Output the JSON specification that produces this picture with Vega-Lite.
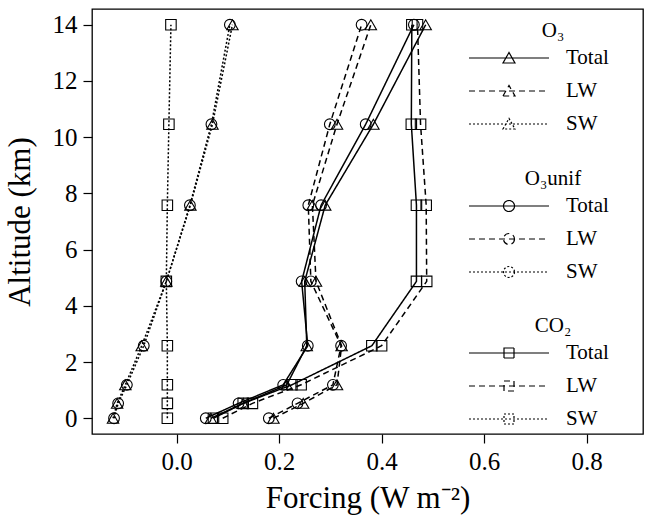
{
  "$schema": "https://vega.github.io/schema/vega-lite/v6.json",
  "width": 551,
  "height": 425,
  "autosize": "none",
  "padding": {"left": 92, "top": 9, "right": 2, "bottom": 83},
  "config": {
    "font": "Liberation Serif",
    "view": {"stroke": "black", "strokeWidth": 1.3},
    "axis": {
      "domain": false, "grid": false, "tickColor": "black", "tickSize": 9, "tickWidth": 1.2,
      "labelColor": "black", "labelFontSize": 25, "titleColor": "black", "titleFontSize": 31, "titleFontWeight": "normal"
    },
    "legend": {
      "orient": "none", "padding": 0, "labelFontSize": 21, "titleFontSize": 21, "titleFontWeight": "normal",
      "titleColor": "black", "labelColor": "black", "titleAnchor": "middle", "symbolSize": 400,
      "symbolStrokeColor": "black", "symbolStrokeWidth": 1.2, "symbolFillColor": "transparent",
      "rowPadding": 12, "titlePadding": 6, "labelOffset": 46, "symbolOffset": 0
    }
  },
  "data": {"values": [
    {"gas": "O3", "comp": "Total", "alt": 0, "f": 0.067},
    {"gas": "O3", "comp": "Total", "alt": 0.53, "f": 0.13},
    {"gas": "O3", "comp": "Total", "alt": 1.19, "f": 0.215},
    {"gas": "O3", "comp": "Total", "alt": 2.58, "f": 0.254},
    {"gas": "O3", "comp": "Total", "alt": 4.87, "f": 0.25},
    {"gas": "O3", "comp": "Total", "alt": 7.58, "f": 0.29},
    {"gas": "O3", "comp": "Total", "alt": 10.46, "f": 0.384},
    {"gas": "O3", "comp": "Total", "alt": 14, "f": 0.486},
    {"gas": "O3", "comp": "LW", "alt": 0, "f": 0.189},
    {"gas": "O3", "comp": "LW", "alt": 0.53, "f": 0.247},
    {"gas": "O3", "comp": "LW", "alt": 1.19, "f": 0.313},
    {"gas": "O3", "comp": "LW", "alt": 2.58, "f": 0.322},
    {"gas": "O3", "comp": "LW", "alt": 4.87, "f": 0.272},
    {"gas": "O3", "comp": "LW", "alt": 7.58, "f": 0.265},
    {"gas": "O3", "comp": "LW", "alt": 10.46, "f": 0.313},
    {"gas": "O3", "comp": "LW", "alt": 14, "f": 0.379},
    {"gas": "O3", "comp": "SW", "alt": 0, "f": -0.124},
    {"gas": "O3", "comp": "SW", "alt": 0.53, "f": -0.116},
    {"gas": "O3", "comp": "SW", "alt": 1.19, "f": -0.1},
    {"gas": "O3", "comp": "SW", "alt": 2.58, "f": -0.068},
    {"gas": "O3", "comp": "SW", "alt": 4.87, "f": -0.02},
    {"gas": "O3", "comp": "SW", "alt": 7.58, "f": 0.027},
    {"gas": "O3", "comp": "SW", "alt": 10.46, "f": 0.07},
    {"gas": "O3", "comp": "SW", "alt": 14, "f": 0.109},
    {"gas": "O3unif", "comp": "Total", "alt": 0, "f": 0.057},
    {"gas": "O3unif", "comp": "Total", "alt": 0.53, "f": 0.121},
    {"gas": "O3unif", "comp": "Total", "alt": 1.19, "f": 0.208},
    {"gas": "O3unif", "comp": "Total", "alt": 2.58, "f": 0.256},
    {"gas": "O3unif", "comp": "Total", "alt": 4.87, "f": 0.244},
    {"gas": "O3unif", "comp": "Total", "alt": 7.58, "f": 0.282},
    {"gas": "O3unif", "comp": "Total", "alt": 10.46, "f": 0.369},
    {"gas": "O3unif", "comp": "Total", "alt": 14, "f": 0.463},
    {"gas": "O3unif", "comp": "LW", "alt": 0, "f": 0.18},
    {"gas": "O3unif", "comp": "LW", "alt": 0.53, "f": 0.236},
    {"gas": "O3unif", "comp": "LW", "alt": 1.19, "f": 0.305},
    {"gas": "O3unif", "comp": "LW", "alt": 2.58, "f": 0.321},
    {"gas": "O3unif", "comp": "LW", "alt": 4.87, "f": 0.262},
    {"gas": "O3unif", "comp": "LW", "alt": 7.58, "f": 0.257},
    {"gas": "O3unif", "comp": "LW", "alt": 10.46, "f": 0.299},
    {"gas": "O3unif", "comp": "LW", "alt": 14, "f": 0.361},
    {"gas": "O3unif", "comp": "SW", "alt": 0, "f": -0.122},
    {"gas": "O3unif", "comp": "SW", "alt": 0.53, "f": -0.114},
    {"gas": "O3unif", "comp": "SW", "alt": 1.19, "f": -0.097},
    {"gas": "O3unif", "comp": "SW", "alt": 2.58, "f": -0.064},
    {"gas": "O3unif", "comp": "SW", "alt": 4.87, "f": -0.02},
    {"gas": "O3unif", "comp": "SW", "alt": 7.58, "f": 0.026},
    {"gas": "O3unif", "comp": "SW", "alt": 10.46, "f": 0.068},
    {"gas": "O3unif", "comp": "SW", "alt": 14, "f": 0.104},
    {"gas": "CO2", "comp": "Total", "alt": 0, "f": 0.072},
    {"gas": "CO2", "comp": "Total", "alt": 0.53, "f": 0.13},
    {"gas": "CO2", "comp": "Total", "alt": 1.19, "f": 0.225},
    {"gas": "CO2", "comp": "Total", "alt": 2.58, "f": 0.381},
    {"gas": "CO2", "comp": "Total", "alt": 4.87, "f": 0.468},
    {"gas": "CO2", "comp": "Total", "alt": 7.58, "f": 0.468},
    {"gas": "CO2", "comp": "Total", "alt": 10.46, "f": 0.458},
    {"gas": "CO2", "comp": "Total", "alt": 14, "f": 0.459},
    {"gas": "CO2", "comp": "LW", "alt": 0, "f": 0.09},
    {"gas": "CO2", "comp": "LW", "alt": 0.53, "f": 0.148},
    {"gas": "CO2", "comp": "LW", "alt": 1.19, "f": 0.243},
    {"gas": "CO2", "comp": "LW", "alt": 2.58, "f": 0.4},
    {"gas": "CO2", "comp": "LW", "alt": 4.87, "f": 0.488},
    {"gas": "CO2", "comp": "LW", "alt": 7.58, "f": 0.487},
    {"gas": "CO2", "comp": "LW", "alt": 10.46, "f": 0.476},
    {"gas": "CO2", "comp": "LW", "alt": 14, "f": 0.47},
    {"gas": "CO2", "comp": "SW", "alt": 0, "f": -0.018},
    {"gas": "CO2", "comp": "SW", "alt": 0.53, "f": -0.018},
    {"gas": "CO2", "comp": "SW", "alt": 1.19, "f": -0.018},
    {"gas": "CO2", "comp": "SW", "alt": 2.58, "f": -0.018},
    {"gas": "CO2", "comp": "SW", "alt": 4.87, "f": -0.02},
    {"gas": "CO2", "comp": "SW", "alt": 7.58, "f": -0.018},
    {"gas": "CO2", "comp": "SW", "alt": 10.46, "f": -0.015},
    {"gas": "CO2", "comp": "SW", "alt": 14, "f": -0.011}
  ]},
  "encoding": {
    "x": {"field": "f", "type": "quantitative", "scale": {"domain": [-0.165, 0.91], "nice": false, "zero": false},
      "axis": {"title": "Forcing (W m⁻²)", "values": [0, 0.2, 0.4, 0.6, 0.8], "format": ".1f", "labelPadding": 6, "titleBaseline": "alphabetic", "titleY": 73}},
    "y": {"field": "alt", "type": "quantitative", "scale": {"domain": [-0.56, 14.56], "nice": false, "zero": false},
      "axis": {"title": "Altitude (km)", "values": [0, 2, 4, 6, 8, 10, 12, 14], "format": "d", "labelPadding": 6, "titleX": -56}}
  },
  "layer": [
    {"transform": [{"filter": "datum.gas === 'O3'"}],
     "mark": {"type": "line", "color": "black", "strokeWidth": 1.5},
     "encoding": {"order": {"field": "alt", "type": "quantitative"},
       "strokeDash": {"field": "comp", "type": "nominal",
         "scale": {"domain": ["Total", "LW", "SW"], "range": [[1, 0], [6, 4], [2, 2]]},
         "legend": {"title": "O₃", "legendX": 406, "legendY": 11, "symbolType": "M-4,0L4,0M-0.6,0.5L0,-0.55L0.6,0.5Z"}}}},
    {"transform": [{"filter": "datum.gas === 'O3unif'"}],
     "mark": {"type": "line", "color": "black", "strokeWidth": 1.5},
     "encoding": {"order": {"field": "alt", "type": "quantitative"},
       "strokeDash": {"field": "comp", "type": "nominal",
         "scale": {"domain": ["Total", "LW", "SW"], "range": [[1, 0], [6, 4], [2, 2]]},
         "legend": {"title": "O₃unif", "legendX": 406, "legendY": 159, "symbolType": "M-4,0L4,0M0.55,0A0.55,0.55,0,1,1,-0.55,0A0.55,0.55,0,1,1,0.55,0Z"}}}},
    {"transform": [{"filter": "datum.gas === 'CO2'"}],
     "mark": {"type": "line", "color": "black", "strokeWidth": 1.5},
     "encoding": {"order": {"field": "alt", "type": "quantitative"},
       "strokeDash": {"field": "comp", "type": "nominal",
         "scale": {"domain": ["Total", "LW", "SW"], "range": [[1, 0], [6, 4], [2, 2]]},
         "legend": {"title": "CO₂", "legendX": 406, "legendY": 306, "symbolType": "M-4,0L4,0M-0.5,-0.5L0.5,-0.5L0.5,0.5L-0.5,0.5Z"}}}},
    {"transform": [{"filter": "datum.gas === 'O3'"}],
     "mark": {"type": "point", "shape": "triangle-up", "filled": false, "color": "black", "size": 130, "strokeWidth": 1.1, "opacity": 1}},
    {"transform": [{"filter": "datum.gas === 'O3unif'"}],
     "mark": {"type": "point", "shape": "circle", "filled": false, "color": "black", "size": 115, "strokeWidth": 1.1, "opacity": 1}},
    {"transform": [{"filter": "datum.gas === 'CO2'"}],
     "mark": {"type": "point", "shape": "square", "filled": false, "color": "black", "size": 110, "strokeWidth": 1.1, "opacity": 1}}
  ],
  "resolve": {"scale": {"strokeDash": "independent"}, "legend": {"strokeDash": "independent"}}
}
